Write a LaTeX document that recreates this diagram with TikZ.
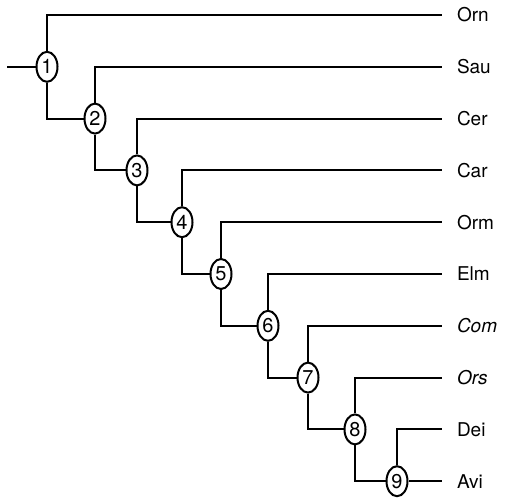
\documentclass[tikz,border=0pt]{standalone}
\usepackage{fontspec}
\setmainfont{TeX Gyre Heros}
\usetikzlibrary{shapes.geometric}
\begin{document}
\begin{tikzpicture}[x=1pt, y=-1pt, line width=2pt,
  clade/.style={ellipse, draw, fill=white, minimum width=21pt, minimum height=30pt,
    inner sep=0pt, font=\fontsize{20}{20}\selectfont},
  taxon/.style={anchor=west, inner sep=0pt, font=\fontsize{19}{19}\selectfont}]
\useasboundingbox (0,0) rectangle (505,502);

% tips of the terminal branches and their names
\foreach \i/\name [evaluate=\i as \y using 15+51.8*(\i-1)] in
  {1/Orn, 2/Sau, 3/Cer, 4/Car, 5/Orm, 6/Elm, 7/\textit{Com}, 8/\textit{Ors}, 9/Dei, 10/Avi} {
  \coordinate (e\i) at (442,\y);
  \node[taxon] (t\i) at (456,\y) {\name};
}

% numbered clades
\foreach \k/\x [evaluate=\k as \y using 15+51.8*\k] in
  {1/47, 2/95, 3/137, 4/182, 5/221, 6/268, 7/308, 8/355, 9/397} {
  \node[clade] (n\k) at (\x,\y) {\k};
}

% root stub
\coordinate (root) at (7,66.8);
\draw (root) -- (n1);

% branches
\foreach \k [evaluate=\k as \nxt using int(\k+1)] in {1,...,8} {
  \draw (n\k) |- (e\k);
  \draw (n\k) |- (n\nxt);
}
\draw (n9) |- (e9);
\draw (n9) -- (e10);
\end{tikzpicture}
\end{document}
